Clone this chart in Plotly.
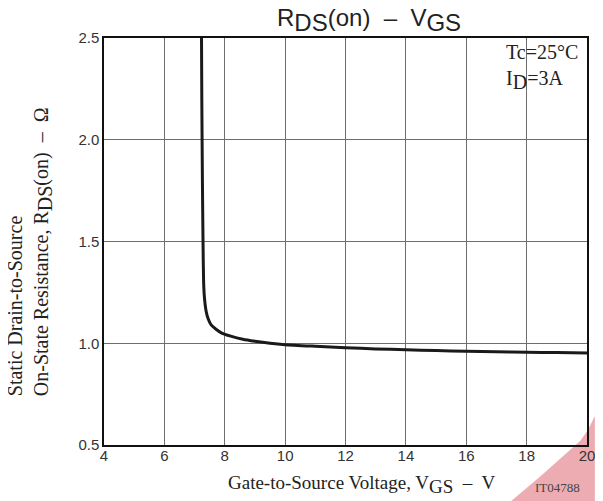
import plotly.graph_objects as go

vgs = [7.23, 7.24, 7.26, 7.28, 7.30, 7.33, 7.38, 7.45, 7.55, 7.7, 7.9, 8.2, 8.6, 9.0, 9.5, 10, 11, 12, 13, 14, 15, 16, 17, 18, 19, 20]
rds = [2.5, 2.2, 1.8, 1.5, 1.3, 1.22, 1.16, 1.12, 1.09, 1.07, 1.05, 1.035, 1.02, 1.01, 1.0, 0.993, 0.985, 0.978, 0.972, 0.968, 0.964, 0.961, 0.958, 0.956, 0.954, 0.952]

x_ticks = [4, 6, 8, 10, 12, 14, 16, 18, 20]
y_ticks = [0.5, 1.0, 1.5, 2.0, 2.5]
y_tick_text = ["0.5", "1.0", "1.5", "2.0", "2.5"]

SERIF = "Liberation Serif"
SANS = "Liberation Sans"

# page is offset by the 8px body margin; plot area spans page x 104..595, y 38..445
def px(x):
    return (x - 104) / 491.0

def py(y):
    return (445 - y) / 407.0

def sub(t, size):
    return "<sub><span style='font-size:%dpx'>%s</span></sub>" % (size, t)

fig = go.Figure()
fig.add_trace(go.Scatter(x=vgs, y=rds, mode="lines",
                         line=dict(color="#1a1a1a", width=3, shape="spline", smoothing=0.6),
                         showlegend=False, hoverinfo="skip"))

fig.update_layout(
    width=595, height=493,
    margin=dict(l=96, r=8, t=30, b=56),
    paper_bgcolor="white", plot_bgcolor="white",
    font=dict(family=SANS, color="#222"),
    xaxis=dict(range=[4, 20], tickvals=x_ticks, ticktext=[str(v) for v in x_ticks],
               showgrid=True, gridcolor="#6e6e6e", gridwidth=1,
               showline=True, linecolor="#111", linewidth=1.5, mirror=True,
               ticks="", zeroline=False, ticklabelstandoff=-4,
               tickfont=dict(family=SANS, size=15, color="#333")),
    yaxis=dict(range=[0.5, 2.5], tickvals=y_ticks, ticktext=y_tick_text,
               showgrid=True, gridcolor="#6e6e6e", gridwidth=1,
               showline=True, linecolor="#111", linewidth=1.5, mirror=True,
               ticks="", zeroline=False,
               tickfont=dict(family=SANS, size=15, color="#333")),
)

anns = [
    dict(text="R" + sub("DS", 24) + "(on)  –  V" + sub("GS", 24), x=px(373), y=py(20), xref="paper", yref="paper",
         xanchor="center", yanchor="middle", showarrow=False,
         font=dict(family=SANS, size=24, color="#222")),
    dict(text="Tc=25°C", x=px(511), y=py(52), xref="paper", yref="paper", xanchor="left", yanchor="middle",
         showarrow=False, font=dict(family=SERIF, size=20, color="#222")),
    dict(text="I" + sub("D", 20) + "=3A", x=px(511), y=py(80), xref="paper", yref="paper", xanchor="left", yanchor="middle",
         showarrow=False, font=dict(family=SERIF, size=20, color="#222")),
    dict(text="Gate-to-Source Voltage, V" + sub("GS", 19) + "  –  V", x=px(366), y=py(484), xref="paper", yref="paper",
         xanchor="center", yanchor="middle", showarrow=False,
         font=dict(family=SERIF, size=19, color="#222")),
    dict(text="IT04788", x=px(565), y=py(487), xref="paper", yref="paper", xanchor="center", yanchor="middle",
         showarrow=False, font=dict(family=SERIF, size=13, color="#444")),
    dict(text="Static Drain-to-Source<br>On-State Resistance, R" + sub("DS", 20) + "(on)  –  Ω",
         x=px(29), y=py(252), xref="paper", yref="paper", xanchor="center", yanchor="middle",
         textangle=-90, align="left", showarrow=False,
         font=dict(family=SERIF, size=20, color="#222")),
]
fig.update_layout(annotations=anns)

# pink watermark in the lower right corner
wm = [(518, 501), (548, 476), (572, 455), (588, 441), (596, 430), (603, 416), (603, 501)]
path = "M " + " L ".join("%f,%f" % (px(a), py(b)) for a, b in wm) + " Z"
fig.add_shape(type="path", path=path, xref="paper", yref="paper", layer="below",
              fillcolor="rgba(220,90,100,0.5)", line=dict(width=0))

fig.write_html("out.html")
